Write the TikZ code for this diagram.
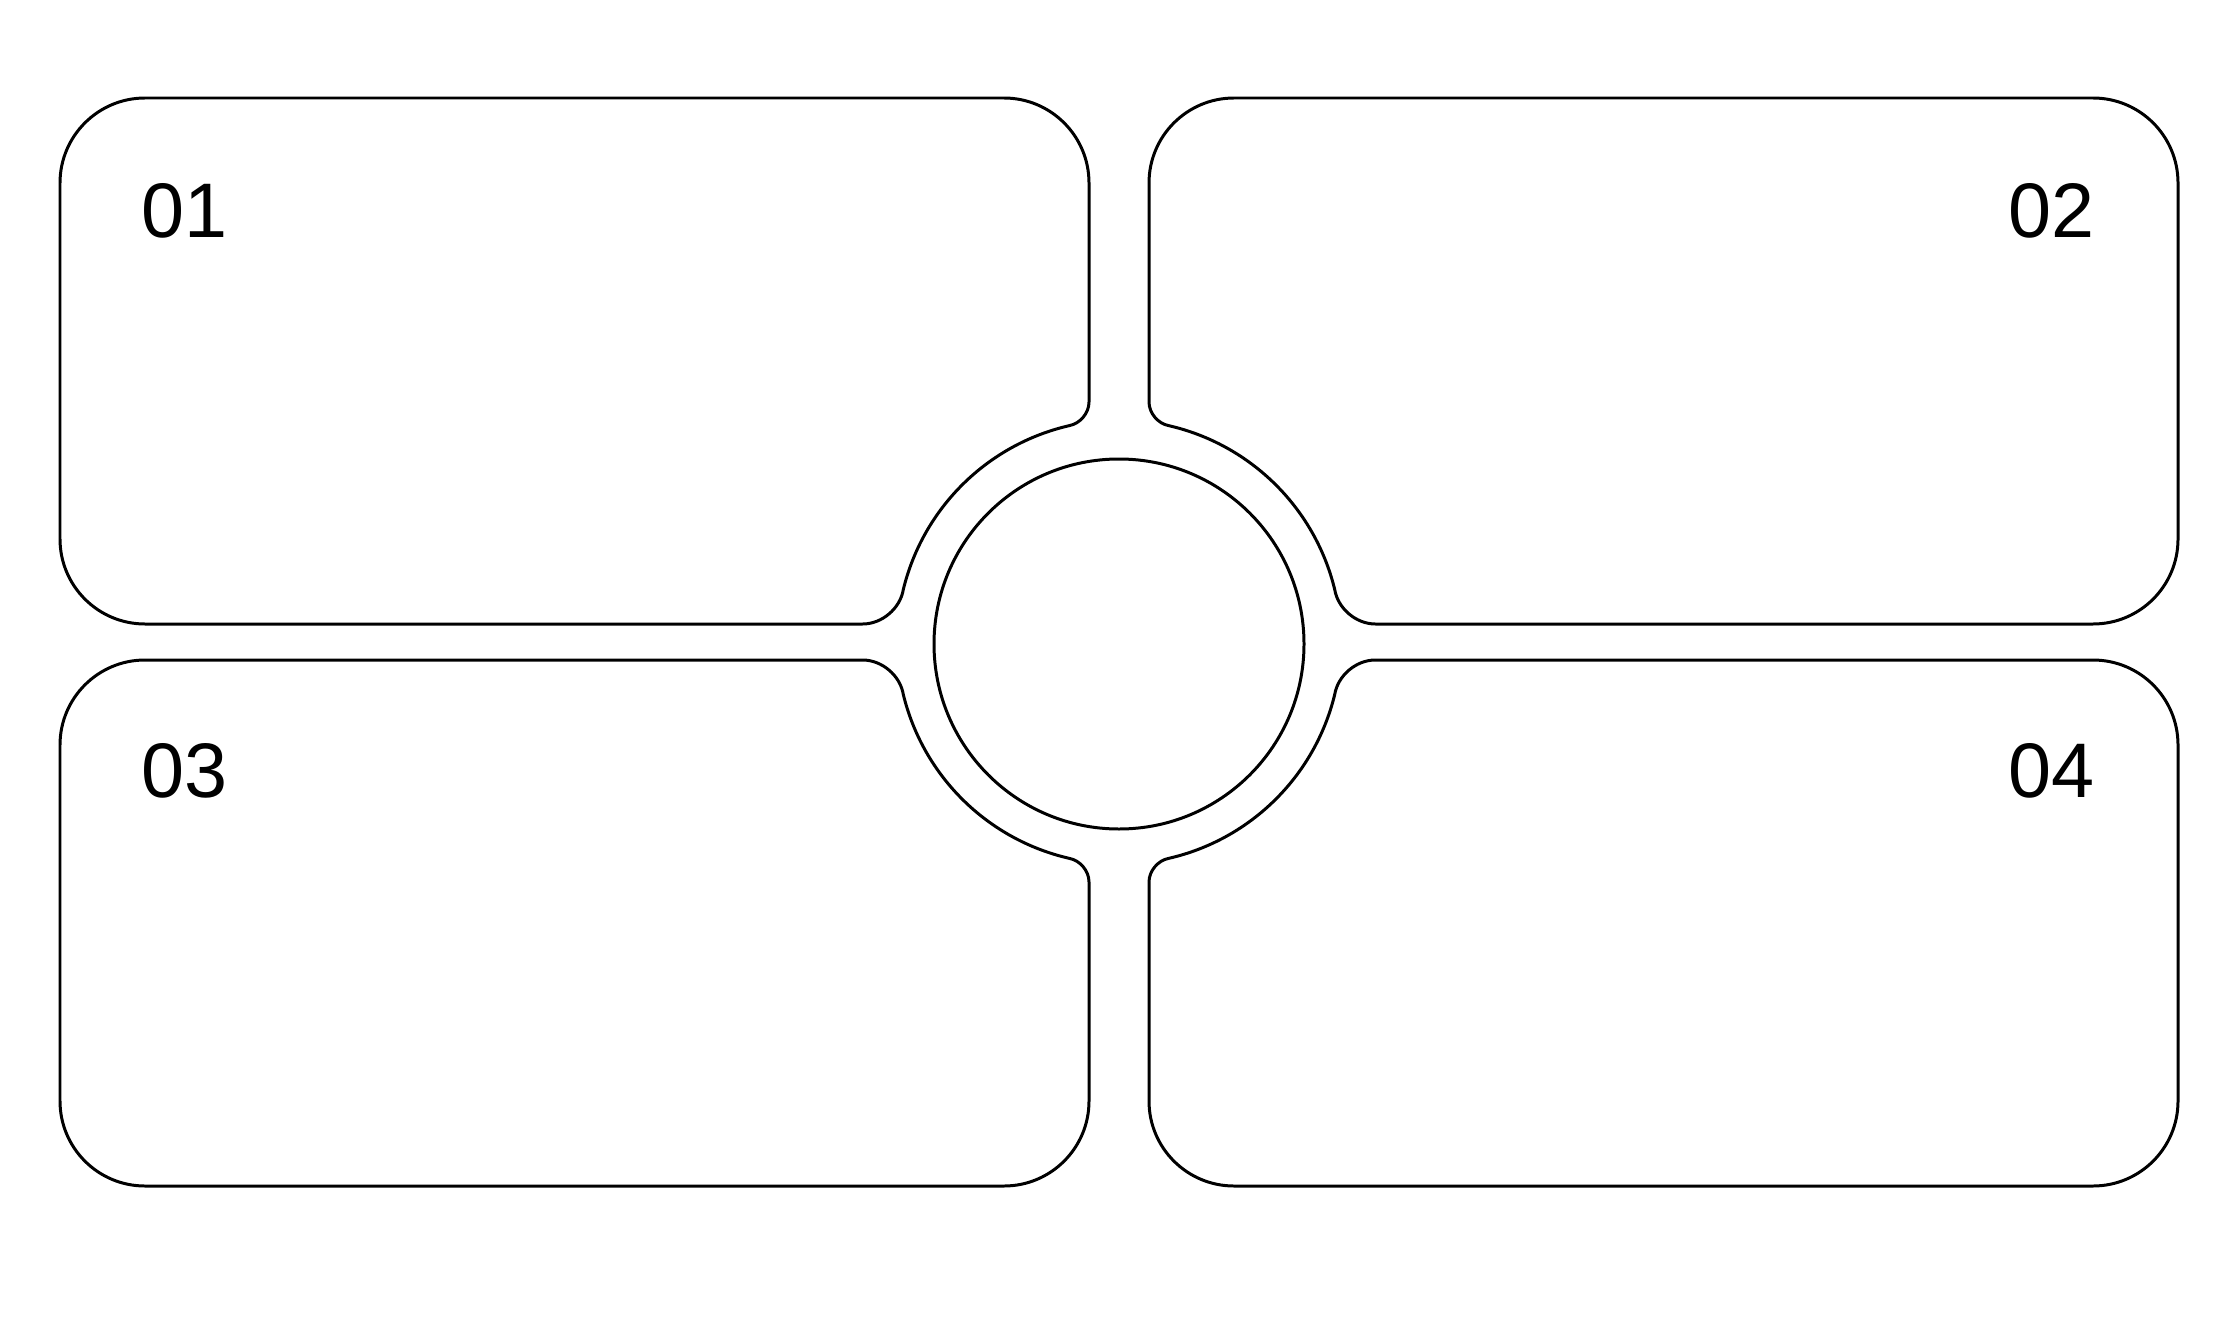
\documentclass[tikz,border=0pt]{standalone}
\usepackage{fontspec}
\setmainfont{Liberation Sans}
\tikzset{
  panel/.style={draw=black, line width=0.85pt, line join=round},
  numlabel/.style={inner sep=0pt, font=\fontsize{22}{26}\selectfont, anchor=base west}
}
\begin{document}
\begin{tikzpicture}[x=0.01cm,y=0.01cm]
\useasboundingbox (0,0) rectangle (2240,1320);
\fill[white] (0,0) rectangle (2240,1320);
\begin{scope}[shift={(1119,678)}]
  \foreach \sx/\sy in {1/1,-1/1,1/-1,-1/-1}{
    \begin{scope}[xscale=\sx, yscale=\sy]
      \draw[panel] (-1059,103) -- (-1059,459)
        arc[start angle=180, end angle=90, radius=85] -- (-115,544)
        arc[start angle=90, end angle=0, radius=85] -- (-30,240)
        .. controls (-30,229) and (-38.85,218.4) .. (-49.67,216.37)
        arc[start angle=102.93, end angle=166.32, radius=222]
        .. controls (-218.8,33.5) and (-237.05,18) .. (-256.3,18)
        -- (-974,18)
        arc[start angle=270, end angle=180, radius=85] -- cycle;
    \end{scope}
  }
  \draw[panel] (0,-2) circle[radius=185];
\end{scope}
\node[numlabel] (n01) at (141,1083) {01};
\node[numlabel] (n02) at (2008,1083) {02};
\node[numlabel] (n03) at (141,523) {03};
\node[numlabel] (n04) at (2008,523) {04};
\end{tikzpicture}
\end{document}
